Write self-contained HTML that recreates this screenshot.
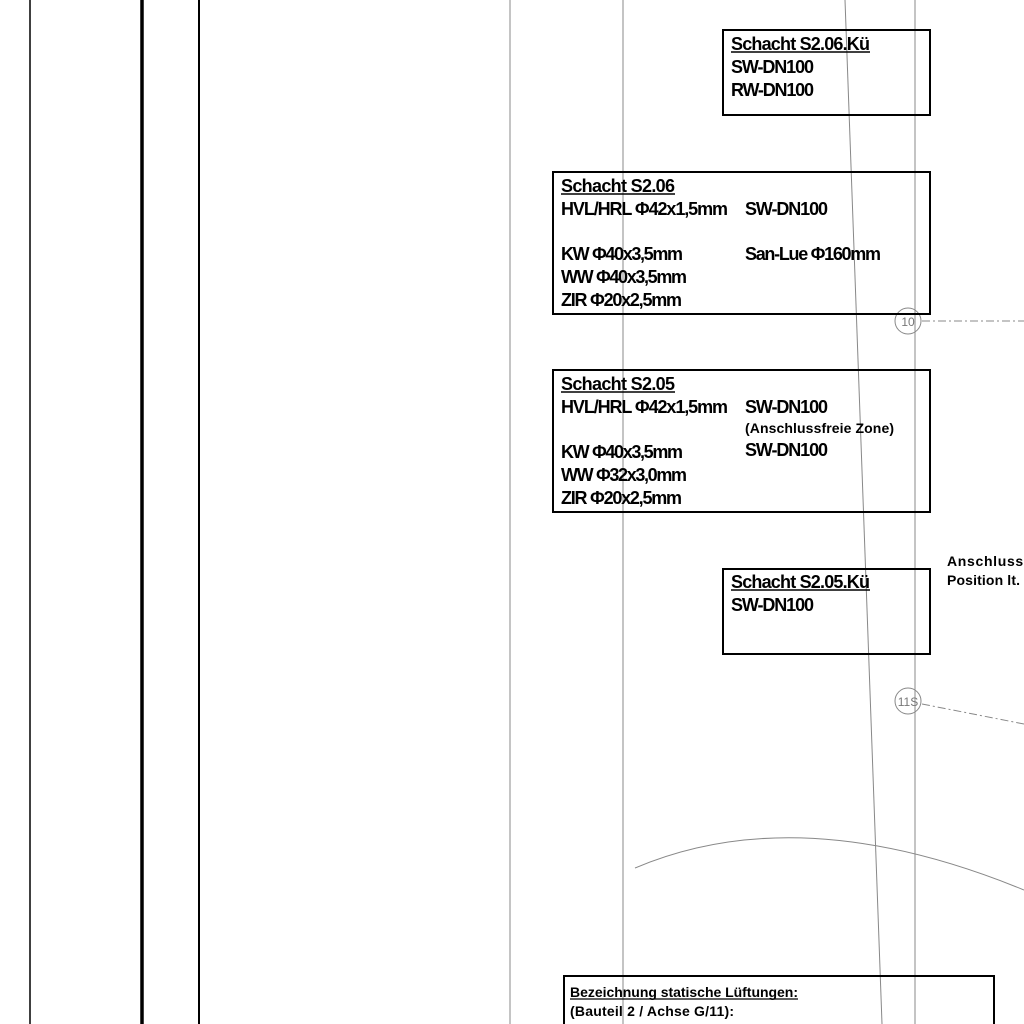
<!DOCTYPE html>
<html><head><meta charset="utf-8"><style>
html,body{margin:0;padding:0;background:#fff;width:1024px;height:1024px;overflow:hidden}
text{font-family:"Liberation Sans Narrow","Liberation Sans",sans-serif;font-size:18px;fill:#000;font-weight:bold}
.s{font-size:14px}
</style></head><body>
<svg width="1024" height="1024" viewBox="0 0 1024 1024" xmlns="http://www.w3.org/2000/svg">
<g stroke="#000" fill="none">
<line x1="30" y1="0" x2="30" y2="1024" stroke-width="1.5"/>
<line x1="142" y1="0" x2="142" y2="1024" stroke-width="3.5"/>
<line x1="199" y1="0" x2="199" y2="1024" stroke-width="2"/>
</g>
<g stroke="#888" fill="none" stroke-width="1">
<line x1="510" y1="0" x2="510" y2="1024"/>
<line x1="623" y1="0" x2="623" y2="1024"/>
<line x1="915" y1="0" x2="915" y2="1024"/>
<line x1="845" y1="0" x2="882" y2="1024"/>
<path d="M635 868 Q800 798 1024 890"/>
<circle cx="908" cy="321" r="13"/>
<circle cx="908" cy="701" r="13"/>
<line x1="922" y1="321" x2="1024" y2="321" stroke-dasharray="8,3,2,3"/>
<line x1="922" y1="704" x2="1024" y2="724" stroke-dasharray="8,3,2,3"/>
</g>
<text x="908" y="326" class="s" text-anchor="middle" style="font-weight:normal;fill:#777;font-size:12px">10</text>
<text x="908" y="706" class="s" text-anchor="middle" style="font-weight:normal;fill:#777;font-size:12px">11S</text>
<g stroke="#000" fill="none" stroke-width="2">
<rect x="723" y="30" width="207" height="85"/>
<rect x="553" y="172" width="377" height="142"/>
<rect x="553" y="370" width="377" height="142"/>
<rect x="723" y="569" width="207" height="85"/>
<rect x="564" y="976" width="430" height="60"/>
</g>
<g>
<text x="731" y="50" textLength="139">Schacht S2.06.Kü</text>
<line x1="731" y1="52" x2="870" y2="52" stroke="#000" stroke-width="1.5"/>
<text x="731" y="73" textLength="83">SW-DN100</text>
<text x="731" y="96" textLength="83">RW-DN100</text>

<text x="561" y="192" textLength="114">Schacht S2.06</text>
<line x1="561" y1="194" x2="675" y2="194" stroke="#000" stroke-width="1.5"/>
<text x="561" y="215" textLength="167">HVL/HRL Φ42x1,5mm</text>
<text x="745" y="215" textLength="83">SW-DN100</text>
<text x="561" y="260" textLength="122">KW Φ40x3,5mm</text>
<text x="745" y="260" textLength="136">San-Lue Φ160mm</text>
<text x="561" y="283" textLength="126">WW Φ40x3,5mm</text>
<text x="561" y="306" textLength="121">ZIR Φ20x2,5mm</text>

<text x="561" y="390" textLength="114">Schacht S2.05</text>
<line x1="561" y1="392" x2="675" y2="392" stroke="#000" stroke-width="1.5"/>
<text x="561" y="413" textLength="167">HVL/HRL Φ42x1,5mm</text>
<text x="745" y="413" textLength="83">SW-DN100</text>
<text x="745" y="433" class="s" textLength="149">(Anschlussfreie Zone)</text>
<text x="561" y="458" textLength="122">KW Φ40x3,5mm</text>
<text x="745" y="456" textLength="83">SW-DN100</text>
<text x="561" y="481" textLength="126">WW Φ32x3,0mm</text>
<text x="561" y="504" textLength="121">ZIR Φ20x2,5mm</text>

<text x="731" y="588" textLength="139">Schacht S2.05.Kü</text>
<line x1="731" y1="590" x2="870" y2="590" stroke="#000" stroke-width="1.5"/>
<text x="731" y="611" textLength="83">SW-DN100</text>

<text x="947" y="566" class="s" textLength="90">Anschluss T</text>
<text x="947" y="585" class="s" textLength="73">Position lt.</text>

<text x="570" y="997" class="s" textLength="228">Bezeichnung statische Lüftungen:</text>
<line x1="570" y1="999" x2="798" y2="999" stroke="#000" stroke-width="1.2"/>
<text x="570" y="1016" class="s" textLength="164">(Bauteil 2 / Achse G/11):</text>
</g>
</svg>
</body></html>
